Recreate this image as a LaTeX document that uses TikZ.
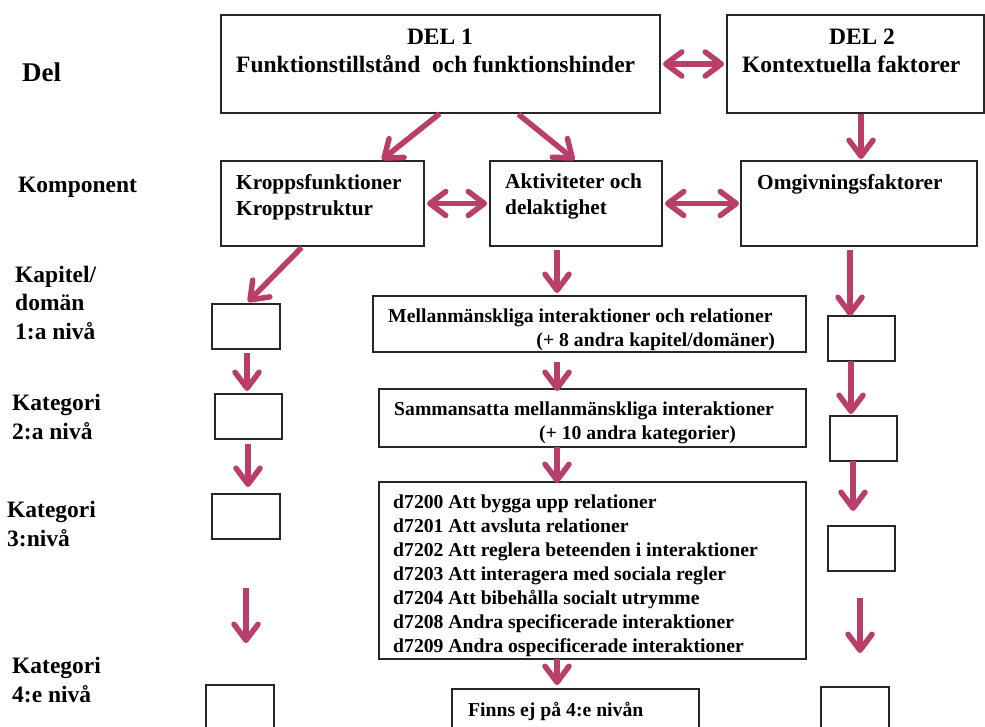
\documentclass[tikz,border=0pt]{standalone}
\usepackage{fontspec}
\setmainfont{Liberation Serif}
\usetikzlibrary{arrows.meta,calc}
\definecolor{mag}{RGB}{186,62,106}
\begin{document}
\begin{tikzpicture}[x=1pt,y=-1pt,
  box/.style 2 args={draw=black!85, line width=1.4pt, anchor=north west, inner sep=0pt, outer sep=0pt,
    minimum width=#1pt, minimum height=#2pt},
  tip/.style={Straight Barb[length=16pt,width=24pt,round]},
  arr/.style={draw=mag, line width=5.5pt, -{Straight Barb[length=16pt,width=24pt,round]}},
  darr/.style={draw=mag, line width=5.5pt, {Straight Barb[length=16pt,width=24pt,round]}-{Straight Barb[length=16pt,width=24pt,round]}},
  big/.style={inner sep=0pt, font=\fontsize{23.5}{28.5}\selectfont\bfseries},
  mid/.style={inner sep=0pt, font=\fontsize{21.3}{26}\selectfont\bfseries},
  sml/.style={inner sep=0pt, font=\fontsize{19.7}{24}\selectfont\bfseries},
  lbl/.style={big, anchor=base west, align=left}
]
\useasboundingbox (0,0) rectangle (985,727);
\clip (0,0) rectangle (985,727);

% ---- boxes
\node[box={439}{98}] (del1) at (221,15) {};
\node[box={257}{98}] (del2) at (727,15) {};
\node[box={203}{85}] (kropps) at (221,161) {};
\node[box={172}{85}] (aktiv) at (490,161) {};
\node[box={236}{85}] (omgiv) at (741,161) {};
\node[box={68}{45}] (l1) at (212,304) {};
\node[box={433}{56}] (mellan) at (373,296) {};
\node[box={67}{45}] (r1) at (828,316) {};
\node[box={67}{45}] (l2) at (215,394) {};
\node[box={427}{58}] (samman) at (379,389) {};
\node[box={67}{45}] (r2) at (830,416) {};
\node[box={68}{45}] (l3) at (212,494) {};
\node[box={427}{177}] (d72) at (379,482) {};
\node[box={67}{45}] (r3) at (828,526) {};
\node[box={68}{60}] (l4) at (206,685) {};
\node[box={247}{60}] (finns) at (452,689) {};
\node[box={68}{60}] (r4) at (821,687) {};

% ---- texts in boxes
\node[big, anchor=base] (t1a) at (440,45) {DEL 1};
\node[big, anchor=base west] (t1b) at (236,73) {Funktionstillstånd~ och funktionshinder};
\node[big, anchor=base] (t2a) at (862,45) {DEL 2};
\node[big, anchor=base west] (t2b) at (742,73) {Kontextuella faktorer};
\node[mid, anchor=base west, align=left] (tk) at (236,216) {Kroppsfunktioner\\Kroppstruktur};
\node[mid, anchor=base west, align=left] (ta) at (505,215) {Aktiviteter och\\delaktighet};
\node[mid, anchor=base west] (to) at (757,190) {Omgivningsfaktorer};
\node[sml, anchor=base west] (tm1) at (388,323) {Mellanmänskliga interaktioner och relationer};
\node[sml, anchor=base east] (tm2) at (775,346) {(+ 8 andra kapitel/domäner)};
\node[sml, anchor=base west] (ts1) at (394,415) {Sammansatta mellanmänskliga interaktioner};
\node[sml, anchor=base east] (ts2) at (736,439) {(+ 10 andra kategorier)};
\node[sml, anchor=base west, align=left] (td) at (393,652) {d7200 Att bygga upp relationer\\
d7201 Att avsluta relationer\\
d7202 Att reglera beteenden i interaktioner\\
d7203 Att interagera med sociala regler\\
d7204 Att bibehålla socialt utrymme\\
d7208 Andra specificerade interaktioner\\
d7209 Andra ospecificerade interaktioner};
\node[sml, anchor=base west] (tf) at (468,716) {Finns ej på 4:e nivån};

% ---- left labels
\node[lbl, font=\fontsize{27}{30}\selectfont\bfseries] (lDel) at (22,82) {Del};
\node[lbl] (lKomp) at (18,193) {Komponent};
\node[lbl] (lKap) at (15,339) {Kapitel/\\domän\\1:a nivå};
\node[lbl] (lK2) at (12,439) {Kategori\\2:a nivå};
\node[lbl] (lK3) at (7,546) {Kategori\\3:nivå};
\node[lbl] (lK4) at (12,702) {Kategori\\4:e nivå};

% ---- helper coordinates
\coordinate (cm) at (557,0);
\coordinate (cr0) at (861,0);
\coordinate (cr1) at (850,0);
\coordinate (cr2) at (851,0);
\coordinate (cr3) at (853,0);
\coordinate (cl1) at (247,0);
\coordinate (cl2) at (248,0);
\coordinate (g1s) at (246,588);
\coordinate (g1e) at (246,643);
\coordinate (g2s) at (860,598);
\coordinate (g2e) at (860,653);

% ---- arrows
\draw[darr, shorten <=3pt, shorten >=3pt] (del1.east) -- (del2.west);
\draw[arr, shorten <=1pt, shorten >=2pt] (del1.south) -- ($(kropps.north west)!0.785!(kropps.north east)$);
\draw[arr, shorten <=2pt, shorten >=2pt] ($(del1.south west)!0.674!(del1.south east)$) -- (aktiv.north);
\draw[arr, shorten <=1pt, shorten >=2pt] (cr0 |- del2.south) -- (cr0 |- omgiv.north);
\draw[darr, shorten <=3pt, shorten >=3pt] (kropps.east) -- (aktiv.west);
\draw[darr, shorten <=3pt, shorten >=2pt] (aktiv.east) -- (omgiv.west);
\draw[arr, shorten <=2pt, shorten >=3pt] ($(kropps.south west)!0.404!(kropps.south east)$) -- (l1.north);
\draw[arr, shorten <=4pt, shorten >=3pt] (cl1 |- l1.south) -- (cl1 |- l2.north);
\draw[arr, shorten <=5pt, shorten >=7pt] (cl2 |- l2.south) -- (cl2 |- l3.north);
\draw[arr] (g1s) -- (g1e);
\draw[arr, shorten <=4pt, shorten >=3pt] (cm |- aktiv.south) -- (cm |- mellan.north);
\draw[arr, shorten <=10pt, shorten >=-2pt] (cm |- mellan.south) -- (cm |- samman.north);
\draw[arr, shorten <=0pt, shorten >=-1pt] (cm |- samman.south) -- (cm |- d72.north);
\draw[arr, shorten <=0pt, shorten >=4pt] (cm |- d72.south) -- (cm |- finns.north);
\draw[arr, shorten <=4pt, shorten >=0pt] (cr1 |- omgiv.south) -- (cr1 |- r1.north);
\draw[arr, shorten <=0pt, shorten >=2pt] (cr2 |- r1.south) -- (cr2 |- r2.north);
\draw[arr, shorten <=0pt, shorten >=15pt] (cr3 |- r2.south) -- (cr3 |- r3.north);
\draw[arr] (g2s) -- (g2e);
\end{tikzpicture}
\end{document}
